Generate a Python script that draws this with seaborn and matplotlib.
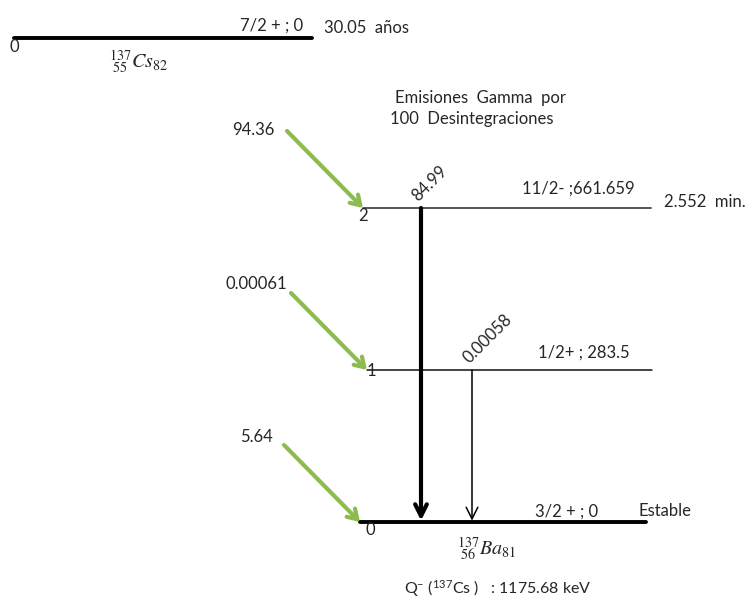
import matplotlib
matplotlib.use("Agg")
import matplotlib.pyplot as plt
import seaborn as sns
import pandas as pd

# ---- decay data: 137Cs -> 137Ba (beta-minus) ----
level_index = [2, 1, 0]
level_spin = ["11/2-", "1/2+", "3/2 +"]
level_energy = ["661.659", "283.5", "0"]          # keV, as printed
level_halflife = ["2.552  min.", "", "Estable"]
beta_feed = [94.36, 0.00061, 5.64]                # beta branches per 100 decays
gamma_from = [2, 1]
gamma_to = [0, 0]
gamma_intensity = [84.99, 0.00058]                # gamma emissions per 100 decays
parent_spin = "7/2 +"
parent_energy = "0"
parent_halflife = "30.05  años"
q_value = "1175.68"

# ---- drawing layout (canvas in pixel-like units, y grows downward) ----
level_y = {2: 208, 1: 370, 0: 522}
level_x = {2: (363, 651), 1: (367, 652), 0: (360, 646)}
level_lw = {2: 1.4, 1: 1.1, 0: 2.8}
level_col = {2: "#555555", 1: "#111111", 0: "#000000"}
parent_y, parent_x = 38, (14, 312)
gamma_x = {2: 421, 1: 472}
beta_label_pos = {2: (232, 130), 1: (226, 284), 0: (240, 437)}
spin_label_pos = {2: (522, 189), 1: (538, 353), 0: (535, 512)}
halflife_pos = {2: (664, 202), 0: (638, 511)}
index_label_pos = {2: (358, 216), 1: (367, 371), 0: (365, 530)}
green = "#8dbb50"

sns.set_theme(style="white")
plt.rcParams["font.family"] = ["Lato", "DejaVu Sans"]
plt.rcParams["mathtext.rm"] = "Lato"
plt.rcParams["mathtext.it"] = "Lato:italic"
FS = 12

fig = plt.figure(figsize=(7.51, 6.01), dpi=100)
ax = fig.add_axes([0, 0, 1, 1])
ax.set_xlim(0, 751)
ax.set_ylim(601, 0)
ax.axis("off")

# parent level
parent_df = pd.DataFrame({"x": list(parent_x), "y": [parent_y, parent_y]})
sns.lineplot(data=parent_df, x="x", y="y", ax=ax, color="black", lw=2.8)
ax.text(parent_x[1] - 9, parent_y - 12, f"{parent_spin} ; {parent_energy}",
        ha="right", va="center", fontsize=FS)
ax.text(324, parent_y - 10, parent_halflife, ha="left", va="center", fontsize=FS)
ax.text(parent_x[0] - 4, parent_y + 9, "0", ha="left", va="center", fontsize=FS)
ax.text(139, 62, r"$^{137}_{\ 55}Cs_{82}$", ha="center", va="center",
        fontsize=14.5, math_fontfamily="stix")

# daughter levels
for idx, spin, en, hl in zip(level_index, level_spin, level_energy, level_halflife):
    y = level_y[idx]
    x0, x1 = level_x[idx]
    df = pd.DataFrame({"x": [x0, x1], "y": [y, y]})
    sns.lineplot(data=df, x="x", y="y", ax=ax, color=level_col[idx], lw=level_lw[idx])
    sep = " ;" if idx == 2 else " ; "
    sx, sy = spin_label_pos[idx]
    ax.text(sx, sy, f"{spin}{sep}{en}", ha="left", va="center", fontsize=FS)
    if hl:
        hx, hy = halflife_pos[idx]
        ax.text(hx, hy, hl, ha="left", va="center", fontsize=FS)
    ix, iy = index_label_pos[idx]
    ax.text(ix, iy, str(idx), ha="left", va="center", fontsize=FS)

# beta feeding arrows
for idx, feed in zip(level_index, beta_feed):
    tip = (level_x[idx][0], level_y[idx])
    tail = (tip[0] - 76, tip[1] - 77)
    ax.annotate("", xy=tip, xytext=tail,
                arrowprops=dict(arrowstyle="->,head_length=0.55,head_width=0.35",
                                color=green, lw=3, shrinkA=0, shrinkB=0))
    bx, by = beta_label_pos[idx]
    ax.text(bx, by, f"{feed:g}", ha="left", va="center", fontsize=FS)

# gamma transitions
for src, dst, inten in zip(gamma_from, gamma_to, gamma_intensity):
    x = gamma_x[src]
    strong = inten > 1
    ax.annotate("", xy=(x, level_y[dst]), xytext=(x, level_y[src]),
                arrowprops=dict(arrowstyle="->,head_length=0.7,head_width=0.35",
                                color="black", lw=3 if strong else 1.1,
                                shrinkA=0, shrinkB=1))
    ax.text(x - 3, level_y[src] - 6, f"{inten:g}", rotation=45,
            rotation_mode="anchor", ha="left", va="baseline", fontsize=FS)

ax.text(395, 98, "Emisiones  Gamma  por", ha="left", va="center", fontsize=FS)
ax.text(390, 119, "100  Desintegraciones", ha="left", va="center", fontsize=FS)

ax.text(487, 549, r"$^{137}_{\ 56}Ba_{81}$", ha="center", va="center",
        fontsize=14.5, math_fontfamily="stix")
ax.text(404, 589, r"Q$^{\mathrm{-}}$ ($^{\mathrm{137}}$Cs )   : " + q_value + " keV",
        ha="left", va="center", fontsize=11.5, math_fontfamily="custom")

fig.savefig("out.png", dpi=100)
